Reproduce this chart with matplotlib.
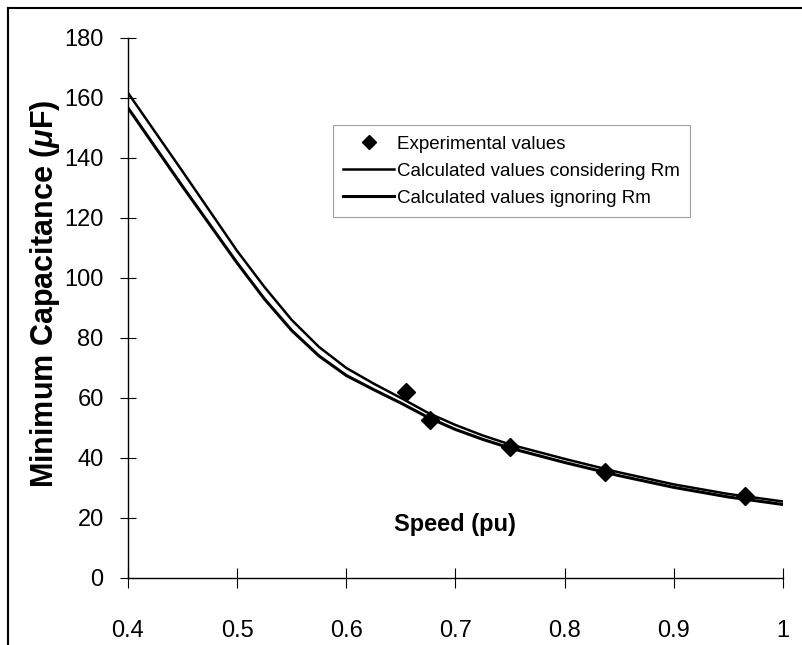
import matplotlib
matplotlib.use("Agg")
import matplotlib.pyplot as plt
from matplotlib.lines import Line2D

plt.rcParams['font.family'] = ['Liberation Sans', 'DejaVu Sans']
plt.rcParams['mathtext.fontset'] = 'custom'
plt.rcParams['mathtext.it'] = 'Liberation Sans:italic:bold'
plt.rcParams['mathtext.rm'] = 'Liberation Sans:bold'

# calculated curves
speed = [0.40, 0.45, 0.50, 0.525, 0.55, 0.575, 0.60, 0.625, 0.65, 0.675,
         0.70, 0.725, 0.75, 0.80, 0.85, 0.90, 0.95, 1.00]
c_with_rm = [161.7, 135.5, 109.0, 97.0, 86.0, 77.0, 70.0, 64.8, 60.0, 55.0,
             51.0, 47.5, 44.5, 39.7, 35.2, 31.2, 28.0, 25.5]
c_without_rm = [156.7, 130.5, 105.0, 93.0, 82.5, 74.0, 67.5, 62.8, 58.3, 53.5,
                49.5, 46.2, 43.3, 38.5, 34.1, 30.2, 27.0, 24.5]

# experimental points
exp_speed = [0.655, 0.677, 0.750, 0.837, 0.965]
exp_c = [61.9, 52.7, 43.8, 35.4, 27.2]

fig = plt.figure(figsize=(8.02, 6.45), dpi=100)
ax = fig.add_axes([0.1596, 0.1039, 0.8167, 0.8372])

ax.plot(speed, c_with_rm, color='black', lw=1.8,
        label='Calculated values considering Rm')
ax.plot(speed, c_without_rm, color='black', lw=2.2,
        label='Calculated values ignoring Rm')
ax.plot(exp_speed, exp_c, 'D', color='black', markersize=9, ls='none',
        label='Experimental values')

ax.set_xlim(0.4, 1.0)
ax.set_ylim(0, 180)
ax.set_xticks([0.4, 0.5, 0.6, 0.7, 0.8, 0.9, 1.0])
ax.set_xticklabels(['0.4', '0.5', '0.6', '0.7', '0.8', '0.9', '1'])
ax.set_yticks(range(0, 181, 20))

for s in ['top', 'right']:
    ax.spines[s].set_visible(False)
ax.spines['left'].set_linewidth(1.0)
ax.spines['bottom'].set_linewidth(1.0)
ax.tick_params(axis='y', direction='inout', length=11, width=0.8, pad=12, labelsize=17)
ax.tick_params(axis='x', direction='inout', length=14, width=0.8, pad=23, labelsize=17)

ax.set_xlabel('Speed (pu)', fontsize=17, fontweight='bold')
ax.xaxis.set_label_coords(0.499, 0.12)
ax.set_ylabel(r'Minimum Capacitance ($\mu$F)', fontsize=22, fontweight='bold')
ax.yaxis.set_label_coords(-0.1, 0.526)

h, l = ax.get_legend_handles_labels()
order = [2, 0, 1]
leg = ax.legend([h[i] for i in order], [l[i] for i in order],
                loc='upper left', bbox_to_anchor=(0.313, 0.838),
                fontsize=13.5, frameon=True, fancybox=False,
                edgecolor='#888888', handlelength=2.7, handletextpad=0.15,
                labelspacing=0.53, borderpad=0.55, borderaxespad=0,
                markerscale=0.8)
leg.get_frame().set_linewidth(0.8)

# outer frame around the chart
fig.add_artist(Line2D([0.01, 0.01], [0.0, 0.988], transform=fig.transFigure,
                      color='black', lw=1.5))
fig.add_artist(Line2D([0.01, 1.0], [0.988, 0.988], transform=fig.transFigure,
                      color='black', lw=1.5))

fig.savefig('out.png', dpi=100)
